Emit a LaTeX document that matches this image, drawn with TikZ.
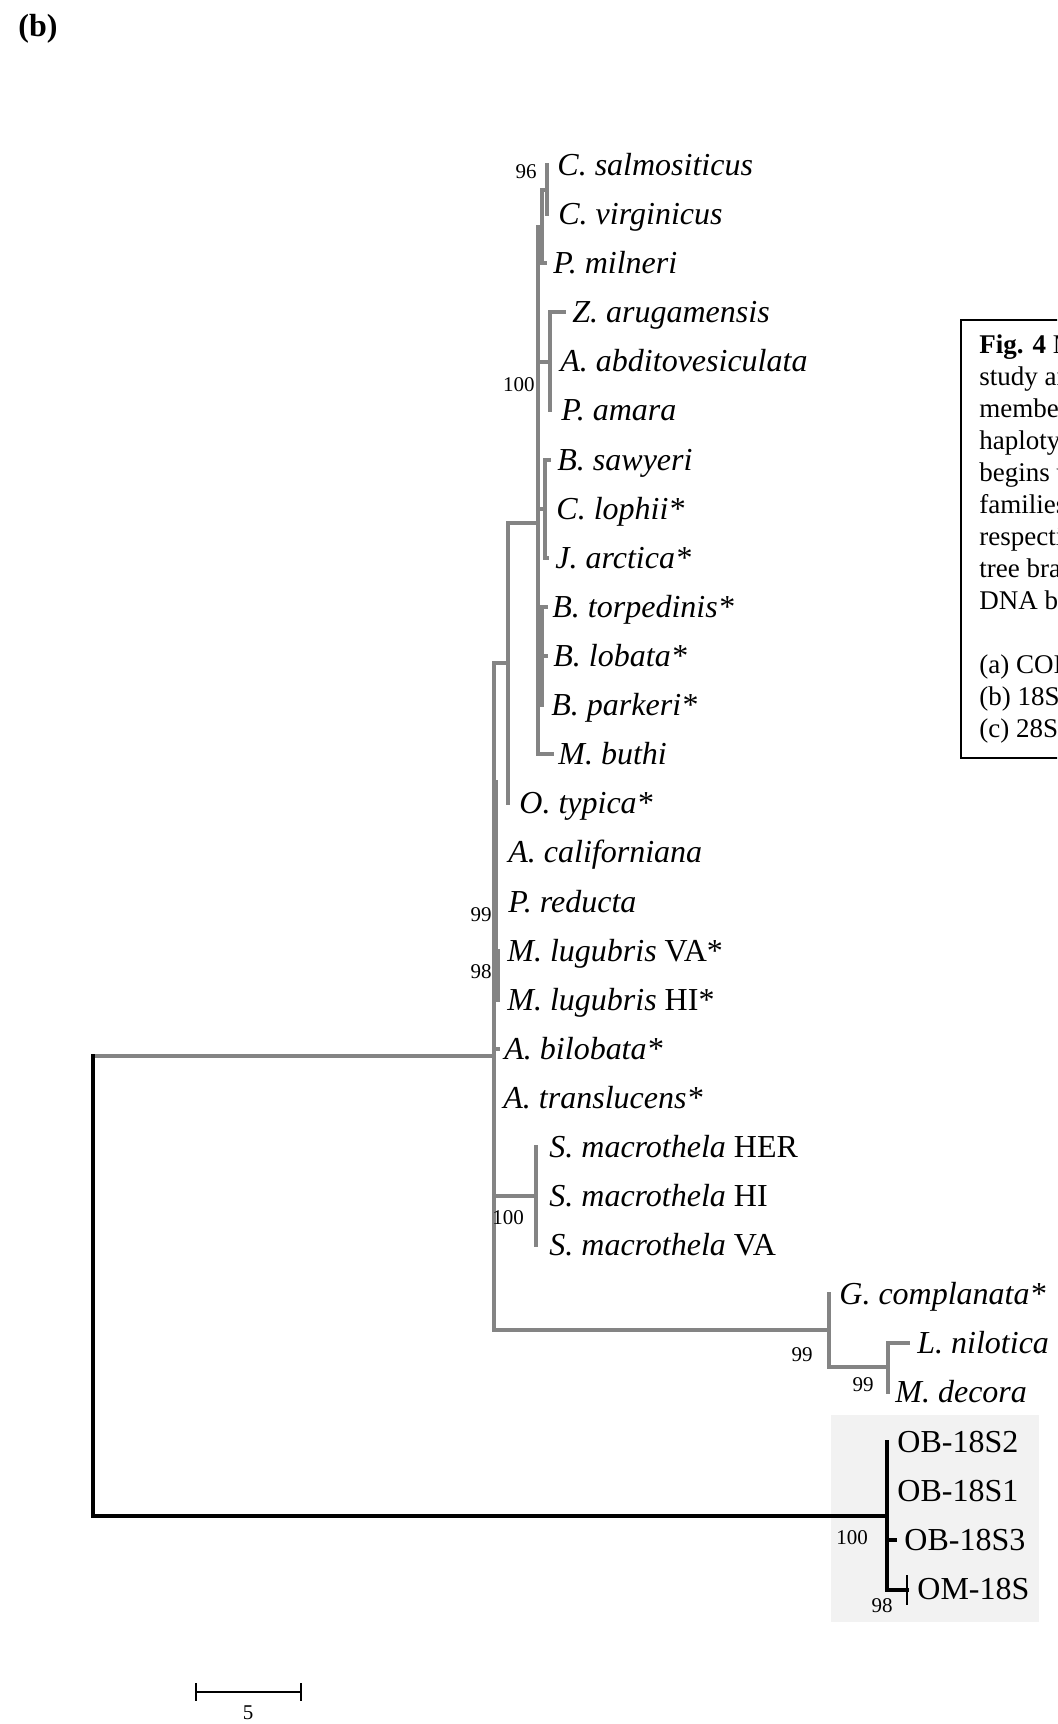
\documentclass[tikz,border=0pt]{standalone}
\usepackage{fontspec}
\setmainfont{Liberation Serif}

\definecolor{treegrey}{RGB}{132,132,132}
\definecolor{boxgrey}{RGB}{242,242,242}
\tikzset{
	branch/.style={draw=treegrey, line width=1.6pt, line cap=rect},
	outbranch/.style={draw=black, line width=1.7pt, line cap=rect},
	taxon/.style={anchor=base west, inner sep=0pt, font=\fontsize{16}{19}\selectfont},
	boot/.style={inner sep=0pt, font=\fontsize{10.5}{12}\selectfont},
	capline/.style={anchor=base west, inner sep=0pt, font=\fontsize{13.5}{16}\selectfont}
}

\begin{document}
\begin{tikzpicture}[x=0.5pt, y=-0.5pt]
	\useasboundingbox (0,0) rectangle (1057,1724);
	\node [anchor=base west, inner sep=0pt, font=\fontsize{16}{19}\selectfont\bfseries] (panel) at (18,36) {(b)};

	\fill [boxgrey] (831,1415) rectangle (1039,1622);

	\coordinate (tCs) at (547,165);  \coordinate (tCv) at (547,214);  \coordinate (tPm) at (545,263);
	\coordinate (tZa) at (564,312);  \coordinate (tAa) at (550,361);  \coordinate (tPa) at (550,410);
	\coordinate (tBs) at (549,460);  \coordinate (tCl) at (545,509);  \coordinate (tJa) at (547,558);
	\coordinate (tBt) at (546,607);  \coordinate (tBl) at (546,656);  \coordinate (tBp) at (542,705);
	\coordinate (tMb) at (552,754);  \coordinate (tOt) at (508,803);  \coordinate (tAc) at (494,852);
	\coordinate (tPr) at (496,902);  \coordinate (tMv) at (498,951);  \coordinate (tMh) at (498,1000);
	\coordinate (tAb) at (498,1049); \coordinate (tAt) at (494,1098); \coordinate (tSh) at (536,1147);
	\coordinate (tSi) at (536,1196); \coordinate (tSv) at (536,1245); \coordinate (tGc) at (829,1294);
	\coordinate (tLn) at (908,1343); \coordinate (tMd) at (888,1392); \coordinate (tO2) at (887,1442);
	\coordinate (tO1) at (887,1491); \coordinate (tO3) at (895,1540);

	\coordinate (nC) at (547,190);   \coordinate (nCP) at (542,227); \coordinate (nZ) at (550,362);
	\coordinate (nBs) at (545,509);  \coordinate (nBt) at (542,656); \coordinate (nK) at (538,523);
	\coordinate (nO) at (508,663);   \coordinate (nMl) at (498,975); \coordinate (n99) at (496,926);
	\coordinate (n99top) at (496,782);
	\coordinate (nSm) at (536,1196); \coordinate (nLM) at (888,1367); \coordinate (nG) at (829,1330);
	\coordinate (nB) at (494,1056);  \coordinate (nOut) at (887,1516); \coordinate (nOM) at (907,1590);
	\coordinate (nOMa) at (907,1575); \coordinate (nOMb) at (907,1605);
	\coordinate (rTop) at (93,1056); \coordinate (rBot) at (93,1516);

	\foreach \p/\c in {nC/tCs, nC/tCv, nCP/nC, nCP/tPm, nZ/tZa, nZ/tAa, nZ/tPa,
		nBs/tBs, nBs/tCl, nBs/tJa, nBt/tBt, nBt/tBl, nBt/tBp,
		nK/nCP, nK/nZ, nK/nBs, nK/nBt, nK/tMb, nO/nK, nO/tOt,
		nMl/tMv, nMl/tMh, n99/tPr, n99/nMl, nSm/tSh, nSm/tSi, nSm/tSv,
		nLM/tLn, nLM/tMd, nG/tGc, nG/nLM,
		nB/nO, nB/tAc, nB/n99, nB/tAb, nB/tAt, nB/nSm, nB/nG}
		\draw [branch] (\p) |- (\c);
	\draw [branch] (n99) -- (n99top);
	\draw [branch] (rTop) -- (nB);

	\draw [outbranch] (rTop) -- (rBot) -- (nOut);
	\foreach \c in {tO2, tO1, tO3, nOM}
		\draw [outbranch] (nOut) |- (\c);
	\draw [line width=1pt] (nOMa) -- (nOMb);

	\node [taxon] (cs) at (557,175) {\textit{C. salmositicus}};
	\node [taxon] (cv) at (558,224) {\textit{C. virginicus}};
	\node [taxon] (pm) at (553,273) {\textit{P. milneri}};
	\node [taxon] (za) at (572,322) {\textit{Z. arugamensis}};
	\node [taxon] (aa) at (560,371) {\textit{A. abditovesiculata}};
	\node [taxon] (pa) at (561,420) {\textit{P. amara}};
	\node [taxon] (bs) at (557,470) {\textit{B. sawyeri}};
	\node [taxon] (cl) at (556,519) {\textit{C. lophii*}};
	\node [taxon] (ja) at (555,568) {\textit{J. arctica*}};
	\node [taxon] (bt) at (552,617) {\textit{B. torpedinis*}};
	\node [taxon] (bl) at (553,666) {\textit{B. lobata*}};
	\node [taxon] (bp) at (551,715) {\textit{B. parkeri*}};
	\node [taxon] (mb) at (558,764) {\textit{M. buthi}};
	\node [taxon] (ot) at (519,813) {\textit{O. typica*}};
	\node [taxon] (ac) at (508,862) {\textit{A. californiana}};
	\node [taxon] (pr) at (508,912) {\textit{P. reducta}};
	\node [taxon] (mv) at (507,961) {\textit{M. lugubris} VA*};
	\node [taxon] (mh) at (507,1010) {\textit{M. lugubris} HI*};
	\node [taxon] (ab) at (504,1059) {\textit{A. bilobata*}};
	\node [taxon] (atr) at (503,1108) {\textit{A. translucens*}};
	\node [taxon] (sh) at (549,1157) {\textit{S. macrothela} HER};
	\node [taxon] (si) at (549,1206) {\textit{S. macrothela} HI};
	\node [taxon] (sv) at (549,1255) {\textit{S. macrothela} VA};
	\node [taxon] (gc) at (839,1304) {\textit{G. complanata*}};
	\node [taxon] (ln) at (917,1353) {\textit{L. nilotica}};
	\node [taxon] (md) at (895,1402) {\textit{M. decora}};
	\node [taxon] (o2) at (897,1452) {OB-18S2};
	\node [taxon] (o1) at (897,1501) {OB-18S1};
	\node [taxon] (o3) at (904,1550) {OB-18S3};
	\node [taxon] (om) at (917,1599) {OM-18S};

	\node [boot, anchor=east] (b96) at (537,172) {96};
	\node [boot, anchor=east] (b100a) at (535,385) {100};
	\node [boot, anchor=east] (b99a) at (492,915) {99};
	\node [boot, anchor=east] (b98a) at (492,972) {98};
	\node [boot] (b100b) at (508,1218) {100};
	\node [boot] (b99b) at (802,1355) {99};
	\node [boot] (b99c) at (863,1385) {99};
	\node [boot] (b100c) at (852,1538) {100};
	\node [boot] (b98b) at (882,1606) {98};

	\draw [line width=1pt] (196,1683) -- (196,1701) (196,1692) -- (301,1692) (301,1683) -- (301,1701);
	\node [boot] (scale) at (248,1713) {5};

	\begin{scope}
		\clip (0,0) rectangle (1057,1724);
		\draw [line width=0.6pt] (961,320) rectangle (1090,758);
		\foreach \t/\k in {{\textbf{Fig. 4} M}/0, {study an}/1, {member}/2, {haplotyp}/3, {begins w}/4,
			{families}/5, {respecti}/6, {tree bra}/7, {DNA ba}/8, {(a) COI}/10, {(b) 18S}/11, {(c) 28S}/12}
			\node [capline] (cap\k) at (979,353+32*\k) {\t};
	\end{scope}
\end{tikzpicture}
\end{document}
